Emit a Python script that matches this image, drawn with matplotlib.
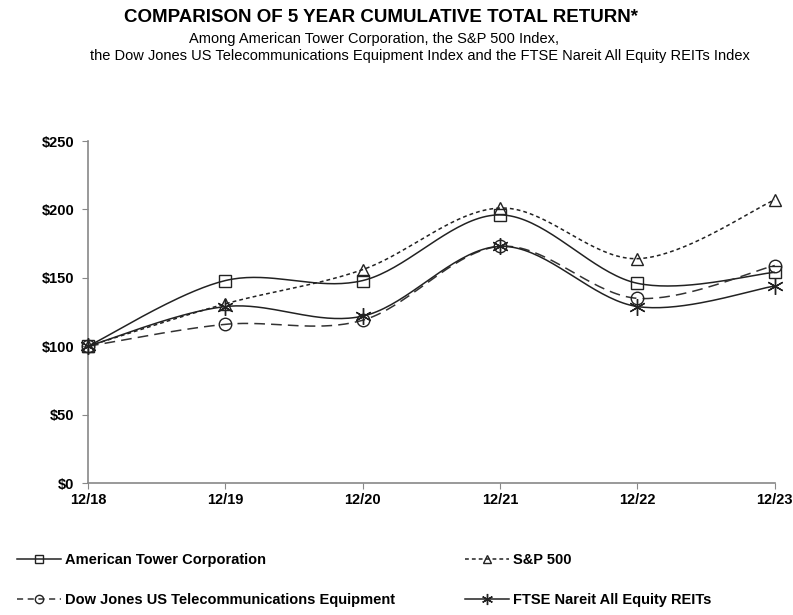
import numpy as np
import matplotlib
matplotlib.use("Agg")
import matplotlib.pyplot as plt
from matplotlib.lines import Line2D
from matplotlib import font_manager

years = ["12/18", "12/19", "12/20", "12/21", "12/22", "12/23"]
amt = [100, 148, 148, 196, 146, 154]
spx = [100, 131, 156, 201, 164, 207]
djte = [100, 116, 119, 173, 135, 159]
reit = [100, 129, 122, 173, 129, 144]
yticks = [0, 50, 100, 150, 200, 250]
ylabels = ["$0", "$50", "$100", "$150", "$200", "$250"]
names = ["American Tower Corporation", "S&P 500",
         "Dow Jones US Telecommunications Equipment", "FTSE Nareit All Equity REITs"]

avail = {f.name for f in font_manager.fontManager.ttflist}
FAM = ["Liberation Sans Narrow", "Liberation Sans", "DejaVu Sans"]
FAM = [f for f in FAM if f in avail] or ["DejaVu Sans"]
plt.rcParams['font.family'] = FAM


def smooth(xs, ys, n=40):
    # Excel-like smoothed line through the data points (cubic Bezier / Catmull-Rom)
    P = np.column_stack([xs, ys]).astype(float)
    P = np.vstack([P[0], P, P[-1]])
    out = []
    for i in range(1, len(P) - 2):
        p0, p1, p2, p3 = P[i - 1], P[i], P[i + 1], P[i + 2]
        c1 = p1 + (p2 - p0) / 6.0
        c2 = p2 - (p3 - p1) / 6.0
        t = np.linspace(0, 1, n)[:, None]
        b = ((1 - t) ** 3) * p1 + 3 * ((1 - t) ** 2) * t * c1 + 3 * (1 - t) * t ** 2 * c2 + t ** 3 * p2
        out.append(b if i == 1 else b[1:])
    B = np.vstack(out)
    return B[:, 0], B[:, 1]


fig = plt.figure(figsize=(7.93, 6.15), dpi=100)
ax = fig.add_axes([0.111, 0.2146, 0.866, 0.5561])

x = np.arange(len(years))
styles = [
    dict(color="#222222", lw=1.1, ls="-"),
    dict(color="#222222", lw=1.1, ls=(0, (2.5, 2))),
    dict(color="#333333", lw=1.1, ls=(0, (7, 4))),
    dict(color="#222222", lw=1.1, ls="-"),
]
markers = [("s", 9), ("^", 9), ("o", 9), ((6, 2, 0), 12)]
for vals, lst, (mk, ms) in zip([amt, spx, djte, reit], styles, markers):
    sx, sy = smooth(x, vals)
    ax.plot(sx, sy, **lst, zorder=2)
    ax.plot(x, vals, ls="none", marker=mk, ms=ms, mfc="none",
            mec="#222222", mew=1.0, zorder=3, clip_on=False)

ax.set_xlim(0, 5)
ax.set_ylim(0, 250)
ax.set_yticks(yticks)
ax.set_yticklabels(ylabels, fontweight="bold", fontsize=10.5)
ax.set_xticks(x)
ax.set_xticklabels(years, fontweight="bold", fontsize=10.5)
for s in ["top", "right"]:
    ax.spines[s].set_visible(False)
for s in ["left", "bottom"]:
    ax.spines[s].set_color("#888888")
    ax.spines[s].set_linewidth(1.2)
ax.tick_params(axis="y", length=4, color="#888888", pad=6)
ax.tick_params(axis="x", length=4, color="#888888", pad=3)

fig.text(0.48, 1 - 17.5 / 615, "COMPARISON OF 5 YEAR CUMULATIVE TOTAL RETURN*",
         ha="center", va="center", fontsize=13.5, fontweight="bold")
fig.text(0.472, 1 - 39 / 615, "Among American Tower Corporation, the S&P 500 Index,",
         ha="center", va="center", fontsize=10.5)
fig.text(0.53, 1 - 56 / 615,
         "the Dow Jones US Telecommunications Equipment Index and the FTSE Nareit All Equity REITs Index",
         ha="center", va="center", fontsize=10.5)

handles = [
    Line2D([], [], color=st["color"], lw=1.1, ls=st["ls"] if i != 2 else (0, (4, 3)),
           marker=mk, ms=(6 if i != 3 else 8), mfc="none", mec="#222222")
    for i, (st, (mk, ms)) in enumerate(zip(styles, markers))
]
order = [0, 2, 1, 3]  # row-wise: ATC, S&P / DJ, REIT
leg = fig.legend([handles[i] for i in order], [names[i] for i in order],
                 loc="lower left", bbox_to_anchor=(0.005, -0.008),
                 ncol=2, frameon=False, prop=dict(weight="bold", size=10.5),
                 handlelength=3.0, handletextpad=0.3, columnspacing=4.8,
                 labelspacing=1.75)

fig.savefig("out.png", dpi=100)
